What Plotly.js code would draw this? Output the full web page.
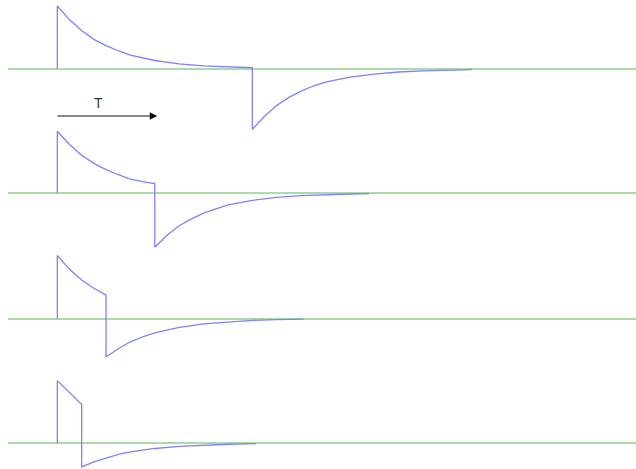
<!DOCTYPE html>
<html>
<head>
<meta charset="utf-8">
<script src="https://cdn.plot.ly/plotly-3.0.1.min.js"></script>
<style>
  html, body { margin: 0; padding: 0; background: #fff; }
  #chart { width: 636px; height: 469px; }
</style>
</head>
<body>
<div id="chart"></div>
<script>
// Pulse response traces, time in units of the RC time constant, voltage relative to pulse height
// Pulse width 4
const t1 = [0, 0, 0.25, 0.5, 0.75, 1, 1.25, 1.5, 2, 2.5, 3, 3.5, 4, 4, 4.25, 4.5, 4.75, 5, 5.25, 5.5, 6, 6.5, 7, 7.5, 8, 8.5];
const v1 = [0, 1, 0.78, 0.61, 0.47, 0.37, 0.29, 0.22, 0.135, 0.082, 0.05, 0.03, 0.02, -0.96, -0.75, -0.58, -0.45, -0.35, -0.27, -0.21, -0.13, -0.08, -0.048, -0.029, -0.018, -0.011];
// Pulse width 2
const t2 = [0, 0, 0.25, 0.5, 0.75, 1, 1.25, 1.5, 1.75, 2, 2, 2.25, 2.5, 2.75, 3, 3.5, 4, 4.5, 5, 5.5, 6, 6.4];
const v2 = [0, 0.98, 0.77, 0.6, 0.47, 0.37, 0.29, 0.22, 0.18, 0.15, -0.86, -0.67, -0.52, -0.41, -0.32, -0.19, -0.117, -0.071, -0.043, -0.026, -0.016, -0.011];
// Pulse width 1
const t3 = [0, 0, 0.25, 0.5, 0.75, 1, 1, 1.25, 1.5, 1.75, 2, 2.5, 3, 3.5, 4, 4.5, 5.05];
const v3 = [0, 1, 0.78, 0.61, 0.48, 0.37, -0.61, -0.48, -0.37, -0.29, -0.23, -0.14, -0.085, -0.052, -0.031, -0.019, -0.011];
// Pulse width 0.5
const t4 = [0, 0, 0.5, 0.5, 0.75, 1, 1.25, 1.5, 2, 2.5, 3, 3.5, 4.08];
const v4 = [0, 0.99, 0.61, -0.38, -0.3, -0.235, -0.18, -0.14, -0.087, -0.053, -0.032, -0.02, -0.011];

const arrowLabel = 'T';
const arrowSpan = [0, 2.05];

// page geometry (pixels)
const W = 636, H = 469;
const x0px = 57.3, pxPerT = 48.75;   // where t = 0 sits, and scale
const pxPerV = 63;
const baselines = [69, 193, 318.5, 443];
const yLo = [-1.05, -1.0, -0.8, -0.4];
const yHi = 1.05;
const leftPx = 8;

const blue = 'rgb(128,128,255)';
const green = '#aadcaa';

const series = [[t1, v1], [t2, v2], [t3, v3], [t4, v4]];
const data = series.map(([t, v], i) => ({
    x: t,
    y: v,
    type: 'scatter',
    mode: 'lines',
    line: { color: blue, width: 1.3 },
    xaxis: 'x',
    yaxis: i === 0 ? 'y' : 'y' + (i + 1),
    hoverinfo: 'skip'
}));

let layout = {
    width: W,
    height: H,
    margin: { l: leftPx, r: 0, t: 0, b: 0 },
    paper_bgcolor: '#fff',
    plot_bgcolor: 'rgba(0,0,0,0)',
    showlegend: false,
    xaxis: {
        range: [(leftPx - x0px) / pxPerT, (W - x0px) / pxPerT],
        visible: false,
        fixedrange: true
    },
    annotations: [
        {
            x: arrowSpan[1], y: (baselines[0] - 116) / pxPerV,
            ax: arrowSpan[0] - 0.03, ay: (baselines[0] - 116) / pxPerV,
            xref: 'x', yref: 'y', axref: 'x', ayref: 'y',
            text: '', showarrow: true,
            arrowhead: 2, arrowsize: 1.5, arrowwidth: 1, arrowcolor: '#111'
        },
        {
            x: 0.84, y: (baselines[0] - 103) / pxPerV,
            xref: 'x', yref: 'y',
            text: arrowLabel, showarrow: false,
            font: { family: 'Liberation Sans, Arial, sans-serif', size: 14, color: '#333' }
        }
    ]
};

// one invisible y axis per trace, placed so the zero line sits on its baseline
baselines.forEach((b, i) => {
    const top = b - yHi * pxPerV;
    const bottom = b - yLo[i] * pxPerV;
    const key = i === 0 ? 'yaxis' : 'yaxis' + (i + 1);
    layout[key] = {
        range: [yLo[i], yHi],
        domain: [1 - bottom / H, 1 - top / H],
        showgrid: false,
        showticklabels: false,
        ticks: '',
        showline: false,
        zeroline: true,
        zerolinecolor: green,
        zerolinewidth: 2,
        fixedrange: true,
        anchor: 'x'
    };
});

Plotly.newPlot('chart', data, layout, { staticPlot: true, displayModeBar: false });
</script>
</body>
</html>
